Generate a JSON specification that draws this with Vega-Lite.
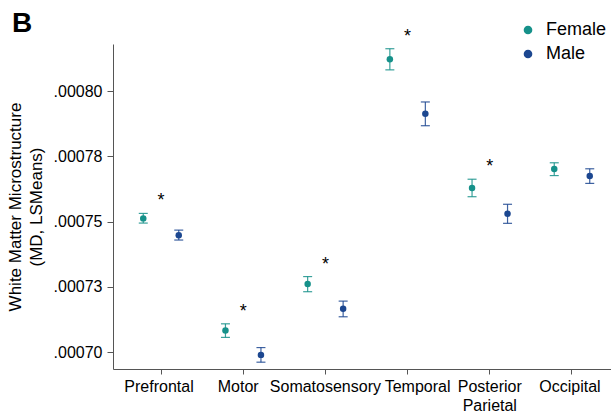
{
  "$schema": "https://vega.github.io/schema/vega-lite/v6.json",
  "autosize": "none",
  "width": 507,
  "height": 325,
  "padding": {"left": 113, "top": 44, "right": 0, "bottom": 47},
  "background": "white",
  "title": {
    "text": "B",
    "anchor": "start",
    "frame": "group",
    "dx": -101,
    "dy": 53,
    "offset": 14,
    "baseline": "alphabetic",
    "font": "Liberation Sans",
    "fontSize": 28,
    "fontWeight": "bold",
    "color": "black"
  },
  "config": {
    "view": {"stroke": null},
    "font": "Liberation Sans",
    "axis": {
      "grid": false,
      "domainColor": "#555555",
      "tickColor": "#555555",
      "labelFont": "Liberation Sans",
      "labelFontSize": 16,
      "labelColor": "black",
      "titleFont": "Liberation Sans",
      "titleFontSize": 17,
      "titleFontWeight": "normal",
      "titleColor": "black"
    }
  },
  "data": {
    "values": [
      {"region": "Prefrontal", "sex": "Female", "mean": 0.0007512, "lower": 0.0007494, "upper": 0.0007531, "sig": "*"},
      {"region": "Prefrontal", "sex": "Male", "mean": 0.0007447, "lower": 0.0007429, "upper": 0.0007467, "sig": ""},
      {"region": "Motor", "sex": "Female", "mean": 0.0007082, "lower": 0.0007056, "upper": 0.0007108, "sig": "*"},
      {"region": "Motor", "sex": "Male", "mean": 0.0006989, "lower": 0.0006961, "upper": 0.0007017, "sig": ""},
      {"region": "Somatosensory", "sex": "Female", "mean": 0.0007261, "lower": 0.0007231, "upper": 0.0007289, "sig": "*"},
      {"region": "Somatosensory", "sex": "Male", "mean": 0.0007166, "lower": 0.0007135, "upper": 0.0007195, "sig": ""},
      {"region": "Temporal", "sex": "Female", "mean": 0.0008122, "lower": 0.0008081, "upper": 0.0008162, "sig": "*"},
      {"region": "Temporal", "sex": "Male", "mean": 0.0007913, "lower": 0.0007867, "upper": 0.0007958, "sig": ""},
      {"region": "Posterior Parietal", "sex": "Female", "mean": 0.0007628, "lower": 0.0007595, "upper": 0.0007662, "sig": "*"},
      {"region": "Posterior Parietal", "sex": "Male", "mean": 0.000753, "lower": 0.0007493, "upper": 0.0007566, "sig": ""},
      {"region": "Occipital", "sex": "Female", "mean": 0.0007701, "lower": 0.0007676, "upper": 0.0007725, "sig": ""},
      {"region": "Occipital", "sex": "Male", "mean": 0.0007674, "lower": 0.0007646, "upper": 0.0007702, "sig": ""}
    ]
  },
  "encoding": {
    "x": {
      "field": "region",
      "type": "nominal",
      "sort": ["Prefrontal", "Motor", "Somatosensory", "Temporal", "Posterior Parietal", "Occipital"],
      "scale": {"type": "band", "paddingInner": 0, "paddingOuter": 0.084},
      "axis": {
        "title": null,
        "labelAngle": 0,
        "tickSize": 5,
        "labelPadding": 4,
        "labelBaseline": "top",
        "labelLineHeight": 19,
        "labelOffset": {
          "condition": [
            {"test": "datum.value == 'Temporal'", "value": 10},
            {"test": "datum.value == 'Motor'", "value": -5},
            {"test": "datum.value == 'Prefrontal' || datum.value == 'Occipital'", "value": -2}
          ],
          "value": 0
        },
        "labelExpr": "datum.label == 'Posterior Parietal' ? ['Posterior', 'Parietal'] : datum.label"
      }
    },
    "color": {
      "field": "sex",
      "type": "nominal",
      "scale": {"domain": ["Female", "Male"], "range": ["#16918a", "#1c4790"]},
      "legend": {
        "title": null,
        "orient": "none",
        "legendX": 406,
        "legendY": -23,
        "padding": 0,
        "symbolType": "circle",
        "symbolSize": 75,
        "symbolOpacity": 1,
        "symbolStrokeWidth": 0,
        "labelFont": "Liberation Sans",
        "labelFontSize": 18,
        "labelColor": "black",
        "labelOffset": 9,
        "rowPadding": 6
      }
    }
  },
  "layer": [
    {
      "mark": {"type": "rule", "strokeWidth": 1.2, "opacity": 0.85},
      "encoding": {
        "xOffset": {"field": "sex", "type": "nominal", "scale": {"paddingInner": 0, "paddingOuter": 0.158}},
        "y": {"field": "lower", "type": "quantitative"},
        "y2": {"field": "upper"}
      }
    },
    {
      "mark": {"type": "tick", "orient": "horizontal", "size": 9, "thickness": 1.2, "opacity": 0.85},
      "encoding": {
        "xOffset": {"field": "sex", "type": "nominal"},
        "y": {"field": "lower", "type": "quantitative"}
      }
    },
    {
      "mark": {"type": "tick", "orient": "horizontal", "size": 9, "thickness": 1.2, "opacity": 0.85},
      "encoding": {
        "xOffset": {"field": "sex", "type": "nominal"},
        "y": {"field": "upper", "type": "quantitative"}
      }
    },
    {
      "mark": {"type": "circle", "size": 42, "opacity": 1},
      "encoding": {
        "xOffset": {"field": "sex", "type": "nominal"},
        "y": {
          "field": "mean",
          "type": "quantitative",
          "scale": {"domain": [0.00069349, 0.00081801], "nice": false, "zero": false},
          "axis": {
            "title": ["White Matter Microstructure", "(MD, LSMeans)"],
            "titlePadding": 8,
            "titleLineHeight": 21,
            "values": [0.0007, 0.000725, 0.00075, 0.000775, 0.0008],
            "tickSize": 6,
            "labelPadding": 5,
            "labelExpr": "datum.value < 0.00071 ? '.00070' : datum.value < 0.00074 ? '.00073' : datum.value < 0.00076 ? '.00075' : datum.value < 0.00079 ? '.00078' : '.00080'"
          }
        }
      }
    },
    {
      "transform": [{"filter": "datum.sig == '*'"}],
      "mark": {"type": "text", "fontSize": 18, "baseline": "alphabetic", "dy": -7, "color": "black", "font": "Liberation Sans"},
      "encoding": {
        "y": {"field": "upper", "type": "quantitative"},
        "text": {"field": "sig"},
        "color": {"value": "black"}
      }
    }
  ]
}
